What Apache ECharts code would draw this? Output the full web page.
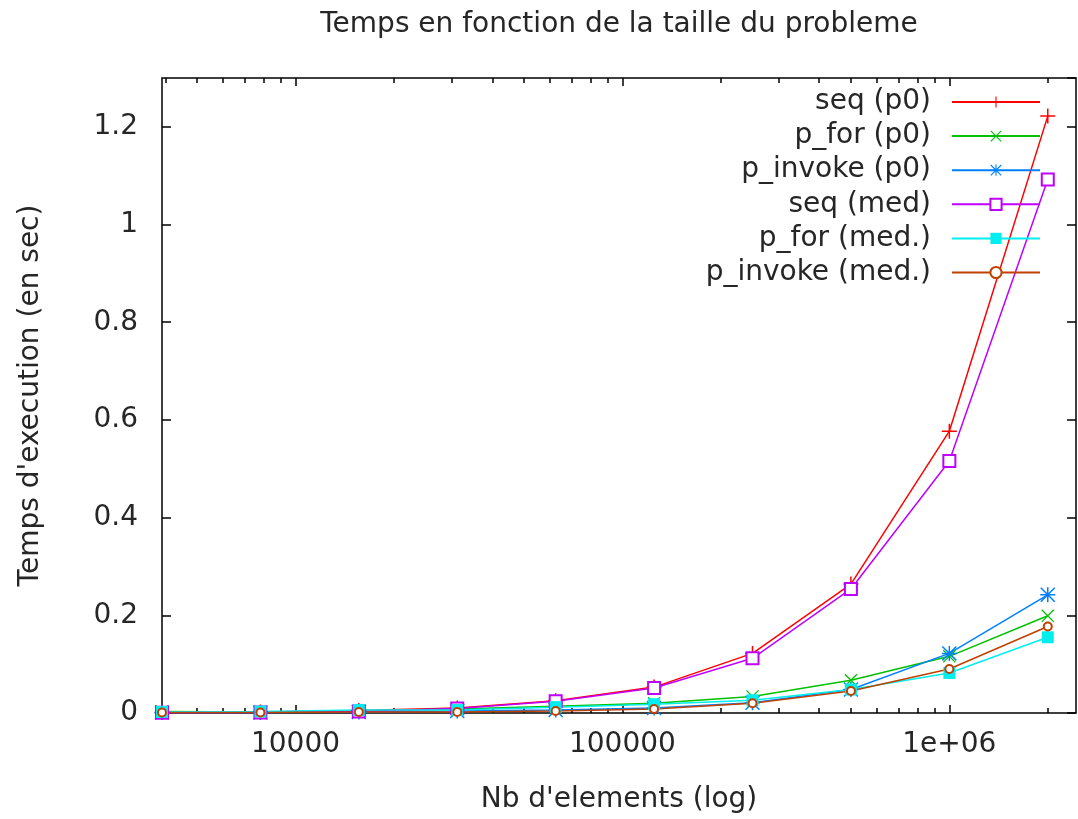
<!DOCTYPE html>
<html>
<head>
<meta charset="utf-8">
<script src="https://cdn.jsdelivr.net/npm/echarts@6/dist/echarts.min.js"></script>
<style>
  html, body { margin: 0; padding: 0; background: #fff; }
  #main { width: 1078px; height: 819px; }
</style>
</head>
<body>
<div id="main"></div>
<script>
// tailles (nb d'elements) : 1e6 / 256 ... 2e6
var sizes = [3906.25, 7812.5, 15625, 31250, 62500, 125000, 250000, 500000, 1000000, 2000000];

var seqP0     = [0.001, 0.002, 0.005, 0.010, 0.025, 0.053, 0.122, 0.264, 0.577, 1.222];
var pForP0    = [0.003, 0.002, 0.004, 0.008, 0.014, 0.020, 0.034, 0.067, 0.116, 0.199];
var pInvP0    = [0.001, 0.001, 0.002, 0.004, 0.006, 0.010, 0.021, 0.048, 0.122, 0.242];
var seqMed    = [0.0005, 0.001, 0.003, 0.009, 0.024, 0.051, 0.112, 0.254, 0.516, 1.092];
var pForMed   = [0.002, 0.003, 0.006, 0.006, 0.012, 0.018, 0.026, 0.048, 0.082, 0.155];
var pInvMed   = [0.001, 0.001, 0.002, 0.002, 0.004, 0.008, 0.020, 0.045, 0.090, 0.177];

var names = ['seq (p0)', 'p_for (p0)', 'p_invoke (p0)', 'seq (med)', 'p_for (med.)', 'p_invoke (med.)'];
var colors = ['#ff0000', '#00c000', '#0080ff', '#c000ff', '#00eeee', '#c04000'];

var xMin = 3906.25, xMax = 2440000;
var xLabels = [10000, 100000, 1000000];

// symboles facon gnuplot
var PLUS = 'path://M9,0h2v9h9v2h-9v9h-2v-9h-9v-2h9z';
var CROSS = 'path://M0,1.4L1.4,0L20,18.6L18.6,20ZM18.6,0L20,1.4L1.4,20L0,18.6Z';
var STAR = 'path://M9,0h2v9h9v2h-9v9h-2v-9h-9v-2h9zM0,1.4L1.4,0L20,18.6L18.6,20ZM18.6,0L20,1.4L1.4,20L0,18.6Z';

function pairs(ys) {
    var out = [];
    for (var i = 0; i < sizes.length; i++) out.push([sizes[i], ys[i]]);
    return out;
}

// ticks : majeurs aux puissances de 10, mineurs a 2..9
var majorTicks = [], minorTicks = [];
for (var d = 1000; d <= 1e7; d *= 10) {
    for (var k = 1; k <= 9; k++) {
        var v = k * d;
        if (v < xMin || v > xMax) continue;
        if (k === 1) majorTicks.push(v); else minorTicks.push(v);
    }
}

function fmtX(v) {
    var e = Math.round(Math.log10(v));
    if (e >= 6) return '1e+0' + e;
    return String(Math.round(v));
}

var FONT = 'DejaVu Sans';
var TXT = '#262626';
var FS = 28;

function xAxisDef(pos, ticks, len, showLabel) {
    return {
        type: 'log', position: pos, min: xMin, max: xMax, logBase: 10,
        axisLine: { show: false },
        splitLine: { show: false },
        axisTick: { show: true, inside: true, length: len, customValues: ticks,
                    lineStyle: { color: '#000', width: 1.5 } },
        axisLabel: { show: showLabel, customValues: xLabels, formatter: fmtX,
                     fontFamily: FONT, fontSize: FS, color: TXT, margin: 18 }
    };
}

var xAxes = [
    xAxisDef('bottom', majorTicks, 8, true),
    xAxisDef('bottom', minorTicks, 5, false),
    xAxisDef('top', majorTicks, 8, false),
    xAxisDef('top', minorTicks, 5, false)
];
xAxes[0].name = "Nb d'elements (log)";
xAxes[0].nameLocation = 'middle';
xAxes[0].nameGap = 73;
xAxes[0].nameTextStyle = { fontFamily: FONT, fontSize: FS, color: TXT };

function yAxisDef(pos, showLabel) {
    return {
        type: 'value', position: pos, min: 0, max: 1.3, interval: 0.2,
        axisLine: { show: false },
        splitLine: { show: false },
        axisTick: { show: true, inside: true, length: 9, lineStyle: { color: '#000', width: 1.5 } },
        axisLabel: { show: showLabel, showMaxLabel: false, fontFamily: FONT, fontSize: FS,
                     color: TXT, margin: 24 }
    };
}
var yAxes = [yAxisDef('left', true), yAxisDef('right', false)];
yAxes[0].name = "Temps d'execution (en sec)";
yAxes[0].nameLocation = 'middle';
yAxes[0].nameGap = 117;
yAxes[0].nameTextStyle = { fontFamily: FONT, fontSize: FS, color: TXT };

var symbols = [PLUS, CROSS, STAR, 'emptyRect', 'rect', 'emptyCircle'];
var symSizes = [15, 13, 15, 12, 12, 8];
var allData = [seqP0, pForP0, pInvP0, seqMed, pForMed, pInvMed];

var series = [];
for (var i = 0; i < names.length; i++) {
    series.push({
        name: names[i], type: 'line',
        xAxisIndex: 0, yAxisIndex: 0,
        data: pairs(allData[i]),
        symbol: symbols[i], symbolSize: symSizes[i],
        showAllSymbol: true,
        lineStyle: { color: colors[i], width: 1.5 },
        itemStyle: { color: colors[i], borderWidth: 1.5 },
        emphasis: { disabled: true },
        animation: false
    });
}

var myChart = echarts.init(document.getElementById('main'));
var option = {
    backgroundColor: '#fff',
    animation: false,
    color: colors,
    title: {
        text: 'Temps en fonction de la taille du probleme',
        left: 614, top: 6, textAlign: 'center',
        textStyle: { fontFamily: FONT, fontSize: FS, fontWeight: 'normal', color: TXT }
    },
    legend: {
        orient: 'vertical', right: 32, top: 83,
        align: 'right',
        itemWidth: 88, itemHeight: 14, itemGap: 6.1,
        textStyle: { fontFamily: FONT, fontSize: FS, color: TXT, padding: [0, 16, 0, 0] },
        data: names
    },
    grid: {
        left: 162, right: 2, top: 78, bottom: 102,
        show: true, borderColor: '#000', borderWidth: 1.5, backgroundColor: 'transparent'
    },
    xAxis: xAxes,
    yAxis: yAxes,
    series: series
};
myChart.setOption(option);
window.onresize = myChart.resize;
</script>
</body>
</html>
